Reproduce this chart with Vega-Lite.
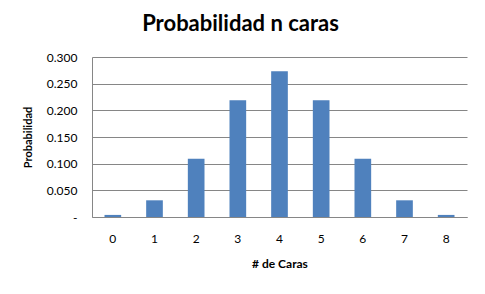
{
  "$schema": "https://vega.github.io/schema/vega-lite/v6.json",
  "width": 375,
  "height": 160,
  "autosize": {"type": "none"},
  "padding": {"left": 92, "top": 57, "right": 18, "bottom": 77},
  "background": "white",
  "title": {
    "text": "Probabilidad n caras",
    "font": "Lato",
    "fontSize": 22,
    "fontWeight": "bold",
    "color": "black",
    "anchor": "middle",
    "dx": -39,
    "offset": 15
  },
  "data": {
    "values": [
      {"caras": "0", "p": 0.0039},
      {"caras": "1", "p": 0.0313},
      {"caras": "2", "p": 0.1094},
      {"caras": "3", "p": 0.2188},
      {"caras": "4", "p": 0.2734},
      {"caras": "5", "p": 0.2188},
      {"caras": "6", "p": 0.1094},
      {"caras": "7", "p": 0.0313},
      {"caras": "8", "p": 0.0039}
    ]
  },
  "mark": {"type": "bar", "color": "#4F81BD"},
  "encoding": {
    "x": {
      "field": "caras",
      "type": "ordinal",
      "sort": null,
      "scale": {"paddingInner": 0.6, "paddingOuter": 0.3},
      "axis": {
        "title": "# de Caras",
        "labelAngle": 0,
        "ticks": false,
        "labelPadding": 16,
        "titlePadding": 14,
        "domainColor": "#868686",
        "labelFont": "Lato",
        "labelFontSize": 12,
        "labelColor": "black",
        "titleFont": "Lato",
        "titleFontSize": 12,
        "titleFontWeight": "bold",
        "titleColor": "black"
      }
    },
    "y": {
      "field": "p",
      "type": "quantitative",
      "scale": {"domain": [0, 0.3]},
      "axis": {
        "title": "Probabilidad",
        "values": [0, 0.05, 0.1, 0.15, 0.2, 0.25, 0.3],
        "labelExpr": "datum.value == 0 ? '-' : format(datum.value, '.3f')",
        "ticks": false,
        "labelPadding": 15,
        "titlePadding": 13,
        "gridColor": "#868686",
        "domainColor": "#868686",
        "labelFont": "Lato",
        "labelFontSize": 12,
        "labelColor": "black",
        "titleFont": "Lato",
        "titleFontSize": 11,
        "titleFontWeight": "bold",
        "titleColor": "black"
      }
    }
  },
  "config": {"view": {"stroke": null}}
}
